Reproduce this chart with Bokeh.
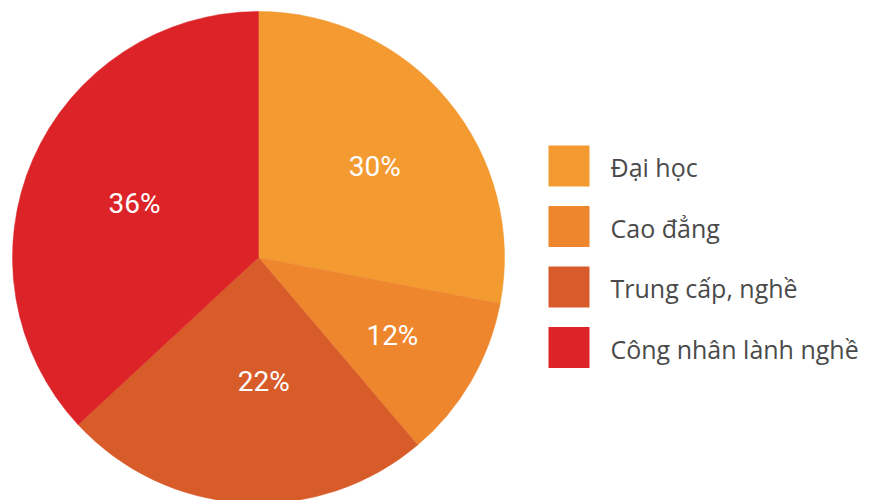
import math
from bokeh.plotting import figure
from bokeh.models import Range1d, ColumnDataSource
from bokeh.core.properties import value
from bokeh.embed import file_html
from bokeh.resources import INLINE

# Data (shares as drawn in the picture; labels as printed)
categories = ["Đại học", "Cao đẳng", "Trung cấp, nghề", "Công nhân lành nghề"]
shares = [28.0, 10.8, 24.3, 36.9]
pct_labels = ["30%", "12%", "22%", "36%"]
colors = ["#F39A31", "#EE862E", "#D85C2A", "#DC2428"]

W, H = 873, 500
cx, cy, R = 258, 243, 246
label_r = [0.60, 0.63, 0.505, 0.55]
label_turn = [-1.5, 0.0, 5.8, 0.0]  # degrees, counter-clockwise nudge

p = figure(width=W, height=H, output_backend="svg", toolbar_location=None,
           x_range=Range1d(0, W), y_range=Range1d(0, H), min_border=0)
p.axis.visible = False
p.grid.visible = False
p.outline_line_color = None
p.background_fill_color = "white"
p.border_fill_color = "white"

total = sum(shares)
starts, ends, lx, ly = [], [], [], []
cum = 0.0
for i, s in enumerate(shares):
    a0 = math.pi / 2 - cum / total * 2 * math.pi
    cum += s
    a1 = math.pi / 2 - cum / total * 2 * math.pi
    starts.append(a0)
    ends.append(a1)
    mid = (a0 + a1) / 2 + math.radians(label_turn[i])
    lx.append(cx + label_r[i] * R * math.cos(mid))
    ly.append(cy + label_r[i] * R * math.sin(mid))

src = ColumnDataSource(dict(start=starts, end=ends, color=colors,
                            lx=lx, ly=ly, lab=pct_labels))
p.wedge(x=cx, y=cy, radius=R, start_angle="start", end_angle="end",
        direction="clock", fill_color="color", line_color="color",
        line_width=0.5, source=src)
p.text(x="lx", y="ly", text="lab", source=src, text_color="white",
       text_font=value("Roboto"), text_font_size="28px",
       text_align="center", text_baseline="middle")

# Legend
n = len(categories)
ly0 = H - 165.5
step = 60.5
sq_y = [ly0 - i * step for i in range(n)]
leg = ColumnDataSource(dict(x=[568.5] * n, y=sq_y, color=colors,
                            tx=[610] * n, ty=[v - 1 for v in sq_y], cat=categories))
p.rect(x="x", y="y", width=41, height=41, fill_color="color",
       line_color=None, source=leg)
p.text(x="tx", y="ty", text="cat", source=leg, text_color="#4a4a4a",
       text_font=value("Open Sans"), text_font_size="25px",
       text_align="left", text_baseline="middle")

open("out.html", "w").write(file_html(p, INLINE))
